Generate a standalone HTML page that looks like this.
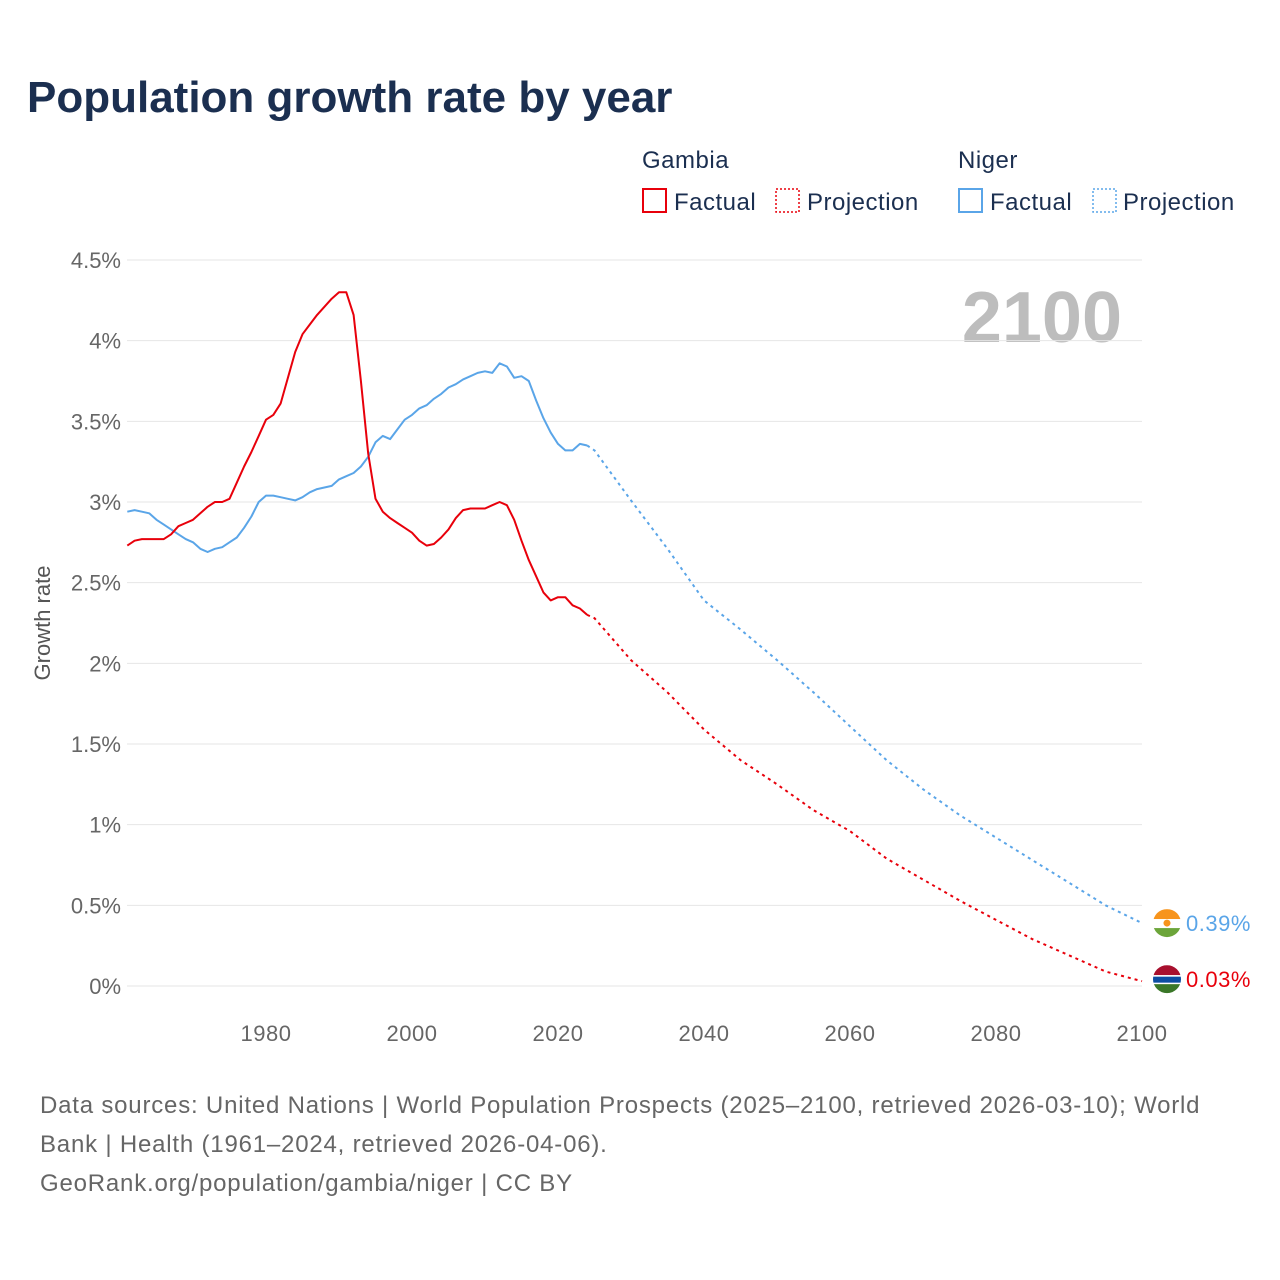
<!DOCTYPE html>
<html><head><meta charset="utf-8"><style>
body{margin:0;background:#fff;font-family:"Liberation Sans",sans-serif;}
#wrap{position:relative;width:1280px;height:1280px;overflow:hidden;}
</style></head><body>
<div id="wrap">
<svg id="chart" width="1280" height="1280" font-family="Liberation Sans, sans-serif">
<text x="27" y="112" font-size="44" font-weight="bold" fill="#1b2f50">Population growth rate by year</text>
<g font-size="24" fill="#1b2f50" letter-spacing="0.5">
<text x="642" y="168">Gambia</text>
<text x="958" y="168">Niger</text>
<g><rect x="643" y="189" width="23" height="23" fill="none" stroke="#e8000b" stroke-width="2"/><text x="674" y="210">Factual</text></g>
<g><rect x="776" y="189" width="23" height="23" fill="none" stroke="#e8000b" stroke-width="1.5" stroke-dasharray="2,2"/><text x="807" y="210">Projection</text></g>
<g><rect x="959" y="189" width="23" height="23" fill="none" stroke="#5aa5e8" stroke-width="2"/><text x="990" y="210">Factual</text></g>
<g><rect x="1093" y="189" width="23" height="23" fill="none" stroke="#5aa5e8" stroke-width="1.5" stroke-dasharray="2,2"/><text x="1123" y="210">Projection</text></g>
</g>
<text x="1122" y="342" text-anchor="end" font-size="72" font-weight="bold" fill="#bdbdbd">2100</text>
<g id="grid"></g><g id="axes"></g><g id="lines"></g><g id="ends"></g>
<text transform="translate(50,623) rotate(-90)" text-anchor="middle" font-size="22" fill="#555">Growth rate</text>
<g font-size="24" fill="#666" letter-spacing="0.8">
<text x="40" y="1113">Data sources: United Nations | World Population Prospects (2025–2100, retrieved 2026-03-10); World</text>
<text x="40" y="1152">Bank | Health (1961–2024, retrieved 2026-04-06).</text>
<text x="40" y="1191">GeoRank.org/population/gambia/niger | CC BY</text>
</g>
</svg>
</div>
<script>
const yTicks=[0,0.5,1,1.5,2,2.5,3,3.5,4,4.5];
const yTickLabels=["0%","0.5%","1%","1.5%","2%","2.5%","3%","3.5%","4%","4.5%"];
const xTicks=[1980,2000,2020,2040,2060,2080,2100];
const factYears=[];for(let y=1961;y<=2024;y++)factYears.push(y);
const gambiaFact=[2.73,2.76,2.77,2.77,2.77,2.77,2.80,2.85,2.87,2.89,2.93,2.97,3.00,3.00,3.02,3.12,3.22,3.31,3.41,3.51,3.54,3.61,3.77,3.93,4.04,4.10,4.16,4.21,4.26,4.30,4.30,4.16,3.75,3.30,3.02,2.94,2.90,2.87,2.84,2.81,2.76,2.73,2.74,2.78,2.83,2.90,2.95,2.96,2.96,2.96,2.98,3.00,2.98,2.89,2.76,2.64,2.54,2.44,2.39,2.41,2.41,2.36,2.34,2.30];
const nigerFact=[2.94,2.95,2.94,2.93,2.89,2.86,2.83,2.80,2.77,2.75,2.71,2.69,2.71,2.72,2.75,2.78,2.84,2.91,3.00,3.04,3.04,3.03,3.02,3.01,3.03,3.06,3.08,3.09,3.10,3.14,3.16,3.18,3.22,3.28,3.37,3.41,3.39,3.45,3.51,3.54,3.58,3.60,3.64,3.67,3.71,3.73,3.76,3.78,3.80,3.81,3.80,3.86,3.84,3.77,3.78,3.75,3.63,3.52,3.43,3.36,3.32,3.32,3.36,3.35];
const projYears=[2024,2025,2030,2035,2040,2045,2050,2055,2060,2065,2070,2075,2080,2085,2090,2095,2100];
const gambiaProj=[2.30,2.28,2.02,1.82,1.59,1.40,1.25,1.09,0.96,0.79,0.66,0.53,0.41,0.29,0.19,0.09,0.03];
const nigerProj=[3.35,3.32,3.01,2.71,2.39,2.21,2.02,1.82,1.61,1.40,1.22,1.06,0.92,0.78,0.64,0.50,0.39];
const endLabels=["0.39%","0.03%"];

const NS="http://www.w3.org/2000/svg";
const X=y=>266+(y-1980)*7.3;
const Y=v=>986-v*161.33;
function mk(t,a,p){const e=document.createElementNS(NS,t);for(const k in a)e.setAttribute(k,a[k]);p.appendChild(e);return e;}
const grid=document.getElementById('grid'),axes=document.getElementById('axes'),lines=document.getElementById('lines'),ends=document.getElementById('ends');
yTicks.forEach((v,i)=>{
 const l=mk('line',{x1:127,x2:1142,y1:Y(v),y2:Y(v),stroke:'#e6e6e6','stroke-width':1},grid);
 
 
 const t=mk('text',{x:121,y:Y(v)+8,'text-anchor':'end','font-size':22,fill:'#666'},axes);
 t.textContent=yTickLabels[i];
 
 
});
xTicks.forEach(v=>{
 const t=mk('text',{x:X(v),y:1041,'text-anchor':'middle','font-size':22,fill:'#666','letter-spacing':0.5},axes);
 t.textContent=v;
 
 
});
function path(xs,vs,color,dash,name){
 const d=xs.map((x,i)=>(i?'L':'M')+X(x).toFixed(1)+','+Y(vs[i]).toFixed(1)).join('');
 const p=mk('path',{d:d,fill:'none',stroke:color,'stroke-width':2,'stroke-linejoin':'round'},lines);
 if(dash)p.setAttribute('stroke-dasharray','3,4');
 
 
}
path(factYears,nigerFact,'#5aa5e8',false,'niger-factual-line');
path(projYears,nigerProj,'#5aa5e8',true,'niger-projection-line');
path(factYears,gambiaFact,'#e8000b',false,'gambia-factual-line');
path(projYears,gambiaProj,'#e8000b',true,'gambia-projection-line');
const ny=Y(nigerProj[nigerProj.length-1]), gy=Y(gambiaProj[gambiaProj.length-1]);
const nLy=Math.min(ny,gy-58), gLy=gy-2;
const cx=1167;
const nf=mk('g',{},ends);


const cp1=mk('clipPath',{id:'c1'},nf);mk('circle',{cx:cx,cy:nLy,r:14},cp1);
const g1=mk('g',{'clip-path':'url(#c1)'},nf);
mk('rect',{x:cx-14,y:nLy-14,width:28,height:10,fill:'#f7941d'},g1);
mk('rect',{x:cx-14,y:nLy-4,width:28,height:9,fill:'#fff'},g1);
mk('rect',{x:cx-14,y:nLy+5,width:28,height:10,fill:'#6ca53a'},g1);
mk('circle',{cx:cx,cy:nLy,r:3.5,fill:'#f7941d'},g1);
const gf=mk('g',{},ends);


const cp=mk('clipPath',{id:'c2'},gf);mk('circle',{cx:cx,cy:gLy,r:14},cp);
const g2=mk('g',{'clip-path':'url(#c2)'},gf);
mk('rect',{x:cx-14,y:gLy-14,width:28,height:10,fill:'#a8102e'},g2);
mk('rect',{x:cx-14,y:gLy-4,width:28,height:9,fill:'#fff'},g2);
mk('rect',{x:cx-14,y:gLy-2.5,width:28,height:6,fill:'#0c4da2'},g2);
mk('rect',{x:cx-14,y:gLy+5,width:28,height:10,fill:'#3a7728'},g2);
const lab1=mk('text',{x:1186,y:nLy+8,'font-size':22,fill:'#5aa5e8','letter-spacing':0.5},ends);
lab1.textContent=endLabels[0];


const lab2=mk('text',{x:1186,y:gLy+8,'font-size':22,fill:'#e8000b','letter-spacing':0.5},ends);
lab2.textContent=endLabels[1];


</script>
</body></html>
